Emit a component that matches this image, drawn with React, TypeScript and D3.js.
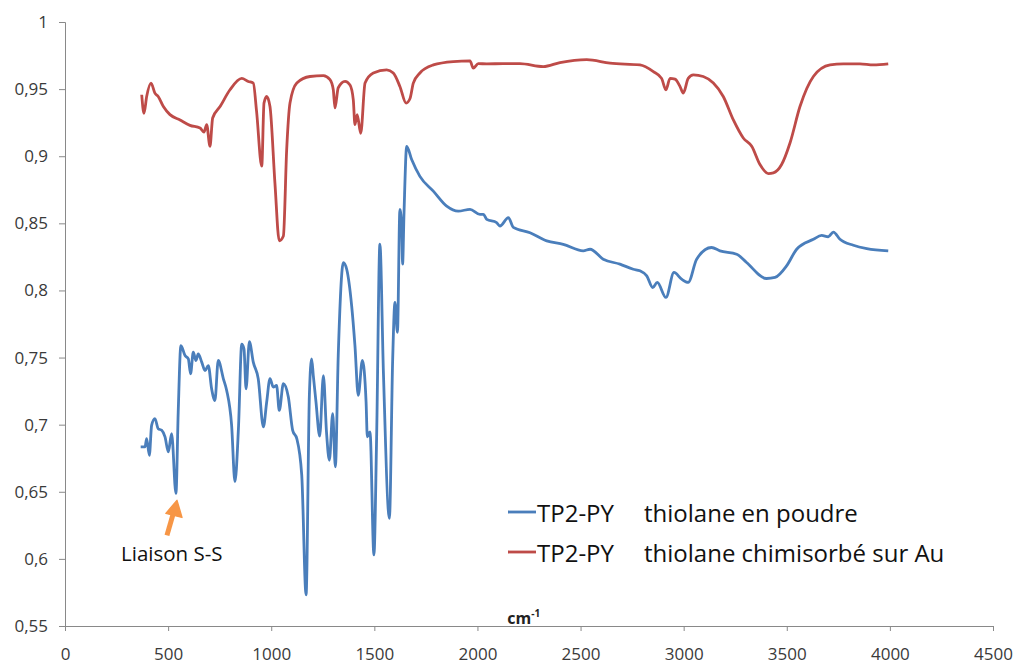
import { useEffect, useRef } from "react";
import * as d3 from "d3";

// wavenumbers (cm-1) and values
const powderWn = [367, 388, 396, 409, 420, 436, 452, 469, 485, 501, 517, 538, 549, 562, 582, 598, 609, 622, 635, 646, 663, 679, 695, 711, 727, 743, 768, 784, 808, 824, 841, 857, 868, 878, 894, 913, 937, 962, 978, 994, 1010, 1026, 1039, 1059, 1083, 1104, 1124, 1148, 1169, 1185, 1196, 1204, 1217, 1235, 1253, 1268, 1282, 1298, 1311, 1325, 1350, 1366, 1390, 1406, 1422, 1442, 1460, 1466, 1479, 1498, 1511, 1527, 1544, 1573, 1589, 1600, 1612, 1624, 1633, 1637, 1644, 1657, 1681, 1721, 1786, 1851, 1907, 1964, 2012, 2029, 2045, 2093, 2109, 2150, 2174, 2255, 2336, 2416, 2513, 2546, 2610, 2691, 2756, 2788, 2821, 2850, 2872, 2914, 2953, 2990, 3022, 3063, 3135, 3176, 3257, 3305, 3402, 3443, 3499, 3548, 3629, 3669, 3701, 3726, 3758, 3823, 3888, 3992];
const powderT = [0.6834, 0.6834, 0.6896, 0.6772, 0.6995, 0.7045, 0.697, 0.6958, 0.6909, 0.6797, 0.6933, 0.6488, 0.7094, 0.7589, 0.7515, 0.749, 0.7379, 0.754, 0.7478, 0.7527, 0.7466, 0.7403, 0.744, 0.7267, 0.718, 0.7478, 0.7342, 0.7255, 0.6995, 0.6575, 0.697, 0.76, 0.7564, 0.7267, 0.7619, 0.7466, 0.7342, 0.6983, 0.7169, 0.7342, 0.728, 0.7292, 0.7106, 0.7305, 0.7206, 0.6958, 0.6896, 0.6624, 0.5733, 0.7218, 0.749, 0.7366, 0.7169, 0.6915, 0.7366, 0.6946, 0.6735, 0.7082, 0.6686, 0.7515, 0.8208, 0.8158, 0.7886, 0.7589, 0.7218, 0.7478, 0.7169, 0.6909, 0.6946, 0.603, 0.6896, 0.8344, 0.7391, 0.6302, 0.749, 0.7911, 0.7688, 0.8604, 0.8455, 0.8196, 0.858, 0.9074, 0.8975, 0.885, 0.874, 0.8628, 0.8591, 0.8604, 0.8567, 0.8567, 0.853, 0.8505, 0.848, 0.8542, 0.847, 0.843, 0.8369, 0.8344, 0.8295, 0.8307, 0.8233, 0.8196, 0.8158, 0.8146, 0.8109, 0.8022, 0.806, 0.7948, 0.8134, 0.8084, 0.806, 0.8233, 0.832, 0.8295, 0.827, 0.8208, 0.8089, 0.8097, 0.8183, 0.8307, 0.8381, 0.841, 0.84, 0.8435, 0.8381, 0.8337, 0.8312, 0.8295];

const goldWn = [372, 383, 396, 417, 436, 452, 477, 509, 558, 606, 655, 674, 687, 703, 716, 752, 800, 857, 889, 913, 929, 954, 965, 978, 994, 1018, 1039, 1059, 1075, 1091, 1124, 1188, 1253, 1285, 1301, 1309, 1325, 1358, 1382, 1398, 1406, 1417, 1434, 1455, 1495, 1560, 1592, 1624, 1654, 1673, 1689, 1721, 1786, 1883, 1964, 1980, 2004, 2045, 2125, 2206, 2319, 2400, 2530, 2643, 2788, 2853, 2893, 2914, 2934, 2958, 2982, 2998, 3022, 3047, 3095, 3144, 3192, 3241, 3289, 3330, 3370, 3411, 3435, 3475, 3516, 3564, 3629, 3710, 3774, 3855, 3920, 3992];
const goldT = [0.9458, 0.932, 0.9445, 0.9545, 0.947, 0.9445, 0.937, 0.931, 0.927, 0.923, 0.921, 0.918, 0.9235, 0.9074, 0.9285, 0.937, 0.9495, 0.958, 0.9557, 0.9545, 0.9334, 0.8926, 0.9396, 0.9445, 0.937, 0.88, 0.837, 0.8406, 0.905, 0.9396, 0.9545, 0.9594, 0.96, 0.957, 0.9495, 0.936, 0.951, 0.9557, 0.953, 0.942, 0.9235, 0.931, 0.917, 0.9545, 0.962, 0.9644, 0.962, 0.952, 0.9396, 0.943, 0.9545, 0.962, 0.968, 0.9705, 0.971, 0.9656, 0.969, 0.9688, 0.969, 0.969, 0.9668, 0.9698, 0.972, 0.9693, 0.968, 0.963, 0.958, 0.9495, 0.958, 0.9574, 0.952, 0.947, 0.958, 0.9606, 0.9594, 0.9545, 0.9445, 0.927, 0.9136, 0.9074, 0.8938, 0.8871, 0.8876, 0.8938, 0.91, 0.937, 0.9594, 0.968, 0.9688, 0.9688, 0.968, 0.9688];

const xTicks = [0, 500, 1000, 1500, 2000, 2500, 3000, 3500, 4000, 4500];
const yTicks = [0.55, 0.6, 0.65, 0.7, 0.75, 0.8, 0.85, 0.9, 0.95, 1];

const seriesNames = ["thiolane en poudre", "thiolane chimisorbé sur Au"];
const seriesColors = ["#4a7ebb", "#be4b48"];

const width = 1015;
const height = 664;
const margin = { top: 22, right: 22, bottom: 38, left: 65 };
const axisColor = "#898989";
const font = "'Open Sans', sans-serif";

const fmt = (v: number) => `${+v.toFixed(2)}`.replace(".", ",");

export default function App() {
	const svgRef = useRef<SVGSVGElement>(null);

	useEffect(() => {
		document.body.style.margin = "0";
		if (!svgRef.current) return;
		const svg = d3.select(svgRef.current);
		svg.selectAll("*").remove();

		const x = d3.scaleLinear().domain([0, 4500]).range([margin.left, width - margin.right]);
		const y = d3.scaleLinear().domain([0.55, 1]).range([height - margin.bottom, margin.top]);

		const yAxis = svg
			.append("g")
			.attr("transform", `translate(${margin.left},0)`)
			.call(d3.axisLeft(y).tickValues(yTicks).tickSize(6).tickPadding(11).tickFormat((v) => fmt(+v)));
		yAxis.selectAll("line, path").attr("stroke", axisColor);
		yAxis.selectAll("text").attr("fill", "#3a3a3a").attr("font-size", 17).attr("font-family", font);

		const xAxis = svg
			.append("g")
			.attr("transform", `translate(0,${height - margin.bottom})`)
			.call(d3.axisBottom(x).tickValues(xTicks).tickSize(5).tickPadding(17).tickFormat((v) => `${v}`));
		xAxis.selectAll("line, path").attr("stroke", axisColor);
		xAxis.selectAll("text").attr("fill", "#3a3a3a").attr("font-size", 17).attr("font-family", font);

		const unit = svg
			.append("text")
			.attr("x", x(2145))
			.attr("y", height - 40)
			.attr("font-family", font)
			.attr("font-weight", 700)
			.attr("font-size", 16)
			.attr("fill", "#222");
		unit.append("tspan").text("cm");
		unit.append("tspan").attr("font-size", 10).attr("dy", -7).text("-1");

		const line = d3
			.line<[number, number]>()
			.x((d) => x(d[0]))
			.y((d) => y(d[1]))
			.curve(d3.curveMonotoneX);

		const series: [number, number][][] = [
			powderWn.map((w, i) => [w, powderT[i]]),
			goldWn.map((w, i) => [w, goldT[i]])
		];

		svg
			.append("g")
			.selectAll("path")
			.data(series)
			.join("path")
			.attr("d", (d) => line(d))
			.attr("fill", "none")
			.attr("stroke", (_, i) => seriesColors[i])
			.attr("stroke-width", 2.8)
			.attr("stroke-linejoin", "round");

		const legend = svg.append("g").attr("font-family", font).attr("font-size", 24).attr("fill", "#111");
		const rows = legend
			.selectAll("g")
			.data(seriesNames)
			.join("g")
			.attr("transform", (_, i) => `translate(508,${512 + i * 40})`);
		rows
			.append("line")
			.attr("x1", 0)
			.attr("x2", 28)
			.attr("stroke", (_, i) => seriesColors[i])
			.attr("stroke-width", 2.8);
		rows.append("text").attr("x", 29).attr("dominant-baseline", "central").text("TP2-PY");
		rows.append("text").attr("x", 136).attr("dominant-baseline", "central").text((d) => d);

		// S-S annotation arrow pointing at the dip near 538 cm-1
		const tipX = x(538) + 1;
		const tipY = y(0.6488) + 7;
		const tailX = tipX - 10;
		const tailY = tipY + 35;
		const ann = svg.append("g");
		ann
			.append("line")
			.attr("x1", tailX)
			.attr("y1", tailY)
			.attr("x2", tipX - 2.5)
			.attr("y2", tipY + 9)
			.attr("stroke", "#f79646")
			.attr("stroke-width", 5);
		ann
			.append("path")
			.attr("d", `M${tipX},${tipY} L${tipX - 11},${tipY + 13} L${tipX + 5},${tipY + 17} Z`)
			.attr("fill", "#f79646")
			.attr("stroke", "#f79646")
			.attr("stroke-linejoin", "round")
			.attr("stroke-width", 1.5);
		ann
			.append("text")
			.attr("x", 121)
			.attr("y", 553)
			.attr("dominant-baseline", "central")
			.attr("font-family", font)
			.attr("font-size", 20.5)
			.attr("fill", "#111")
			.text("Liaison S-S");
	}, []);

	return <svg ref={svgRef} width={width} height={height} style={{ display: "block", background: "#fff" }} />;
}
